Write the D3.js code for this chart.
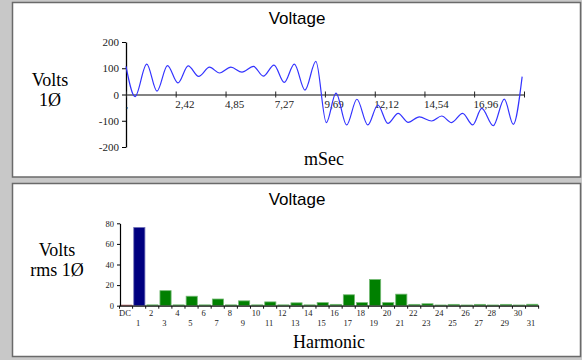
<!DOCTYPE html>
<html><head><meta charset="utf-8">
<script src="https://cdn.jsdelivr.net/npm/d3@7"></script>
<style>
html,body{margin:0;padding:0;background:#c8c8c8;}
svg{display:block;}
</style></head>
<body>
<svg id="c" width="582" height="360"></svg>
<script>
// ---- Data: waveform (extrema) ----
const timeMs = [0,0.44,1.01,1.51,2.02,2.53,3.03,3.54,4.07,4.56,5.11,5.65,6.21,6.69,7.21,7.71,8.20,8.72,9.25,9.76,10.23,10.75,11.25,11.78,12.27,12.76,13.26,13.75,14.29,14.89,15.38,15.86,16.40,16.89,17.33,17.89,18.43,18.87,19.30];
const volts  = [107,-8,116,13,110,44,109,69,104,82,104,85,107,70,112,46,116,17,126,-107,5,-116,-18,-116,-40,-110,-72,-106,-85,-101,-82,-107,-72,-116,-53,-119,-18,-114,68];
const timeTicks = [0,2.42,4.85,7.27,9.69,12.12,14.54,16.96,19.39];
const timeTickLabels = [",","2,42","4,85","7,27","9,69","12,12","14,54","16,96",""];
const voltTicks = [-200,-100,0,100,200];

// ---- Data: harmonics ----
const harmonics = ["DC","1","2","3","4","5","6","7","8","9","10","11","12","13","14","15","16","17","18","19","20","21","22","23","24","25","26","27","28","29","30","31"];
const harmonicRms = [0.6,76,0.8,14.6,0.8,9.2,0.8,6.5,0.8,4.7,0.8,3.7,0.8,2.8,0.8,3.0,1.3,10.6,3.0,25.4,3.0,11.2,1.3,1.9,0.7,1.3,0.7,1.3,0.7,1.3,0.7,1.4];
const rmsTicks = [0,20,40,60,80];

const svg = d3.select("#c");
const serif = "'Liberation Serif','Times New Roman',serif";
const sans = "'Liberation Sans',Arial,sans-serif";

// panels
[[12.5,2.5,568,174.5],[12.5,183.5,568,173]].forEach(p=>{
  svg.append("rect").attr("x",p[0]).attr("y",p[1]).attr("width",p[2]).attr("height",p[3])
    .attr("fill","#fff").attr("stroke","#6a6a6a").attr("stroke-width",1.5);
});

// ---------- Top chart ----------
const x1 = d3.scaleLinear().domain([0,19.39]).range([126,524]);
const y1 = d3.scaleLinear().domain([-200,200]).range([147,42]);

svg.append("text").attr("x",297).attr("y",24).attr("text-anchor","middle")
  .attr("font-family",sans).attr("font-size",17).text("Voltage");

// y axis
const gy1 = svg.append("g").attr("transform",`translate(${x1(0)},0)`)
  .call(d3.axisLeft(y1).tickValues(voltTicks).tickSizeInner(4).tickSizeOuter(0).tickFormat(d=>String(d)));
gy1.select(".domain").attr("stroke","#000").attr("stroke-width",1.3);
gy1.selectAll(".tick line").attr("stroke","#000");
gy1.selectAll(".tick text").attr("font-family",serif).attr("font-size",11).attr("fill","#222").attr("x",-7);

// x axis at 0
const gx1 = svg.append("g").attr("transform",`translate(0,${y1(0)})`)
  .call(d3.axisBottom(x1).tickValues(timeTicks).tickSizeInner(3).tickSizeOuter(0)
    .tickFormat((d,i)=>timeTickLabels[i]));
gx1.select(".domain").attr("stroke","#5a5a5a").attr("stroke-width",1.5);
gx1.selectAll(".tick line").attr("stroke","#222").attr("y1",-3);
gx1.selectAll(".tick text").attr("font-family",serif).attr("font-size",11).attr("fill","#222")
  .attr("text-anchor","start").attr("x",-1).attr("y",13).attr("dy",0);

// waveform
const line = d3.line().x((d,i)=>x1(timeMs[i])).y(d=>y1(d)).curve(d3.curveMonotoneX);
svg.append("path").datum(volts).attr("d",line).attr("fill","none")
  .attr("stroke","#3333ff").attr("stroke-width",1.2);

svg.append("text").attr("x",50).attr("y",86).attr("text-anchor","middle")
  .attr("font-family",serif).attr("font-size",18).text("Volts");
svg.append("text").attr("x",50).attr("y",106).attr("text-anchor","middle")
  .attr("font-family",serif).attr("font-size",18).text("1Ø");
svg.append("text").attr("x",324).attr("y",165).attr("text-anchor","middle")
  .attr("font-family",serif).attr("font-size",18).text("mSec");

// ---------- Bottom chart ----------
const x2 = d3.scaleBand().domain(harmonics).range([119.5,538.5]).paddingInner(0.11).paddingOuter(0.05);
const y2 = d3.scaleLinear().domain([0,80]).range([305.7,223.3]);

svg.append("text").attr("x",297).attr("y",205).attr("text-anchor","middle")
  .attr("font-family",sans).attr("font-size",17).text("Voltage");

const colorOf = (h)=> h==="DC" ? "#800000" : (h==="1" ? "#000080" : "#008000");

svg.append("g").selectAll("rect").data(harmonics).join("rect")
  .attr("x",d=>x2(d)+0.5).attr("width",x2.bandwidth()-0.5)
  .attr("y",(d,i)=>y2(harmonicRms[i]))
  .attr("height",(d,i)=>Math.max(0.5,y2(0)-y2(harmonicRms[i])))
  .attr("fill",d=>colorOf(d))
  .attr("stroke",d=>d3.interpolateRgb(colorOf(d),"#ffffff")(0.45))
  .attr("stroke-width",0.8);

// y axis
const gy2 = svg.append("g").attr("transform",`translate(120,0)`)
  .call(d3.axisLeft(y2).tickValues(rmsTicks).tickSizeInner(3).tickSizeOuter(0));
gy2.select(".domain").attr("stroke","#000").attr("stroke-width",1.2);
gy2.selectAll(".tick line").attr("stroke","#000");
gy2.selectAll(".tick text").attr("font-family",serif).attr("font-size",8.5).attr("fill","#222").attr("x",-6);

// x axis: line + boundary ticks + two-row labels
const gx2 = svg.append("g").attr("transform",`translate(0,${y2(0)})`)
  .call(d3.axisBottom(x2).tickSize(0).tickSizeOuter(0));
gx2.select(".domain").attr("stroke","#111").attr("stroke-width",1.3);
gx2.selectAll(".tick text").attr("font-family",serif).attr("font-size",8.5).attr("fill","#222")
  .attr("x",-1).attr("dy",0).attr("y",(d,i)=> i%2===0 ? 10.5 : 20.5);
const step = x2.step();
const x0 = x2.range()[0];
gx2.append("g").selectAll("line").data(d3.range(harmonics.length+1)).join("line")
  .attr("x1",i=>x0+i*step).attr("x2",i=>x0+i*step).attr("y1",0).attr("y2",3)
  .attr("stroke","#111").attr("stroke-width",1);

svg.append("text").attr("x",57).attr("y",256).attr("text-anchor","middle")
  .attr("font-family",serif).attr("font-size",18).text("Volts");
svg.append("text").attr("x",57).attr("y",276).attr("text-anchor","middle")
  .attr("font-family",serif).attr("font-size",18).text("rms 1Ø");
svg.append("text").attr("x",329).attr("y",347.5).attr("text-anchor","middle")
  .attr("font-family",serif).attr("font-size",18).text("Harmonic");
</script>
</body></html>
